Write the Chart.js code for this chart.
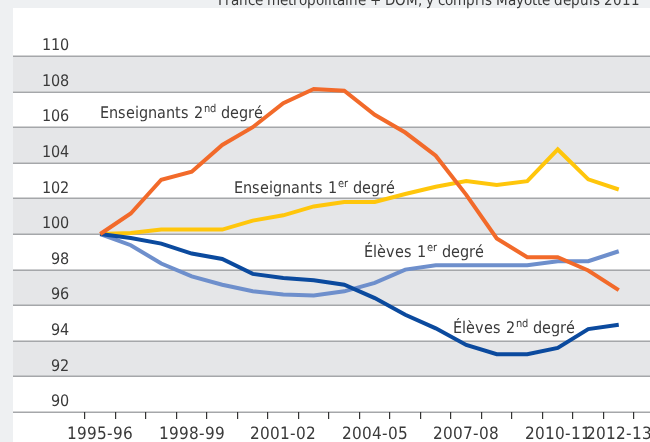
<!DOCTYPE html>
<html>
<head>
<meta charset="utf-8">
<script src="https://cdn.jsdelivr.net/npm/chart.js@4/dist/chart.umd.min.js"></script>
<style>
  @font-face {
    font-family: "NarrowX";
    src: local("Liberation Sans Narrow"), local("LiberationSansNarrow-Regular"),
         local("DejaVu Sans Condensed"), local("DejaVuSansCondensed");
  }
  html, body { margin:0; padding:0; background:#eef0f2; }
  canvas { display:block; }
</style>
</head>
<body>
<canvas id="chart" width="650" height="442"></canvas>
<script>
const years = ["1995-96","1996-97","1997-98","1998-99","1999-00","2000-01","2001-02","2002-03","2003-04",
  "2004-05","2005-06","2006-07","2007-08","2008-09","2009-10","2010-11","2011-12","2012-13"];
const shownYears = ["1995-96","1998-99","2001-02","2004-05","2007-08","2010-11","2012-13"];

const ens2 = [100, 101.15, 103.05, 103.5, 105.0, 106.0, 107.35, 108.15, 108.05, 106.7, 105.7, 104.4, 102.2, 99.75, 98.7, 98.7, 97.95, 96.85];
const ens1 = [100, 100.05, 100.25, 100.25, 100.25, 100.75, 101.05, 101.55, 101.8, 101.8, 102.25, 102.65, 102.97, 102.75, 102.97, 104.75, 103.07, 102.5];
const el1  = [100, 99.37, 98.34, 97.62, 97.15, 96.78, 96.6, 96.54, 96.78, 97.25, 98.0, 98.24, 98.24, 98.24, 98.24, 98.47, 98.47, 99.03];
const el2  = [100, 99.78, 99.46, 98.9, 98.6, 97.76, 97.53, 97.4, 97.15, 96.4, 95.46, 94.7, 93.77, 93.25, 93.25, 93.6, 94.66, 94.9];

const yMin = 90, yMax = 110, yStep = 2;

// labels drawn inside the plot : [text, superscript, rest, x (category index), y (baseline value)]
const seriesLabels = [
  ["Enseignants 2", "nd", " degré", 0, 106.5],
  ["Enseignants 1", "er", " degré", 4.39, 102.28],
  ["Élèves 1", "er", " degré", 8.65, 98.7],
  ["Élèves 2", "nd", " degré", 11.57, 94.44]
];
const subtitle = "France métropolitaine + DOM, y compris Mayotte depuis 2011";

const TXT = "#3a3a3a";
let FONT = '"NarrowX", sans-serif';
let sz = { tick: 16, xtick: 16.5, lab: 16, sup: 10.5, sub: 15 };

const backdrop = {
  id: "backdrop",
  beforeDraw(c){
    const ctx = c.ctx, y = c.scales.y, W = c.width;
    ctx.save();
    ctx.fillStyle = "#eef0f2";
    ctx.fillRect(0, 0, W, c.height);
    ctx.fillStyle = "#ffffff";
    ctx.fillRect(13, 8, W - 13, c.height - 8);
    // bandes grises alternées
    ctx.fillStyle = "#e5e6e8";
    for(let v = yMin + yStep; v < yMax; v += 2*yStep){
      const a = y.getPixelForValue(v), b = y.getPixelForValue(v + yStep);
      ctx.fillRect(13, b, W - 13, a - b);
    }
    ctx.strokeStyle = "#a5a7aa";
    ctx.lineWidth = 1.5;
    for(let v = yMin; v <= yMax; v += yStep){
      const p = Math.round(y.getPixelForValue(v)) + 0.25;
      ctx.beginPath();
      ctx.moveTo(13, p);
      ctx.lineTo(W, p);
      ctx.stroke();
    }
    ctx.restore();
  },
  afterDatasetsDraw(c){
    const ctx = c.ctx, x = c.scales.x, y = c.scales.y;
    ctx.save();
    ctx.fillStyle = TXT;
    ctx.textBaseline = "alphabetic";
    ctx.textAlign = "left";
    for(const [a, sup, b, xi, yv] of seriesLabels){
      let px = x.getPixelForValue(xi);
      const py = y.getPixelForValue(yv);
      ctx.font = sz.lab + "px " + FONT;
      ctx.fillText(a, px, py);
      px += ctx.measureText(a).width + 0.5;
      ctx.font = sz.sup + "px " + FONT;
      ctx.fillText(sup, px, py - 6);
      px += ctx.measureText(sup).width;
      ctx.font = sz.lab + "px " + FONT;
      ctx.fillText(b, px, py);
    }
    ctx.font = sz.sub + "px " + FONT;
    ctx.textAlign = "right";
    ctx.fillText(subtitle, 640, 5);
    ctx.restore();
  }
};

const line = (label, data, color) => ({
  label, data,
  borderColor: color,
  backgroundColor: color,
  borderWidth: 4,
  pointRadius: 0,
  tension: 0,
  fill: false
});

function draw(){
  new Chart(document.getElementById("chart"), {
    type: "line",
    data: {
      labels: years,
      datasets: [
        line("Enseignants 2nd degré", ens2, "#f26a2a"),
        line("Élèves 2nd degré", el2, "#0b4a9e"),
        line("Enseignants 1er degré", ens1, "#ffc60b"),
        line("Élèves 1er degré", el1, "#6e8fcc")
      ]
    },
    options: {
      responsive: false,
      animation: false,
      layout: { padding: { top: 56, left: 13, right: 16, bottom: 0 } },
      plugins: { legend: { display: false }, tooltip: { enabled: false } },
      scales: {
        x: {
          offset: true,
          grid: { offset: true, drawOnChartArea: false, drawTicks: true, tickLength: 7, color: "#333", lineWidth: 1.2 },
          border: { display: false },
          ticks: {
            autoSkip: false, maxRotation: 0, padding: 6,
            color: TXT, font: { family: FONT, size: sz.xtick },
            callback(v){ const s = this.getLabelForValue(v); return shownYears.includes(s) ? s : ""; }
          },
          // le dernier libellé peut déborder à droite comme sur l'original
          afterFit(s){ s.height = 30; s.paddingRight = 0; s.paddingLeft = 0; }
        },
        y: {
          min: yMin, max: yMax,
          grid: { display: false, drawTicks: false },
          border: { display: false },
          ticks: { stepSize: yStep, padding: 16, labelOffset: -10, color: TXT, font: { family: FONT, size: sz.tick } },
          afterFit(s){ s.width = 72; }
        }
      }
    },
    plugins: [backdrop]
  });
}

document.fonts.load('16px "NarrowX"').then(list => {
  if(!list.length){
    // pas de police étroite : Roboto un peu plus petit
    FONT = 'Roboto, sans-serif';
    sz = { tick: 15, xtick: 15, lab: 15, sup: 10, sub: 14 };
  }
  draw();
}).catch(() => { FONT = 'Roboto, sans-serif'; sz = { tick: 15, xtick: 15, lab: 15, sup: 10, sub: 14 }; draw(); });
</script>
</body>
</html>
